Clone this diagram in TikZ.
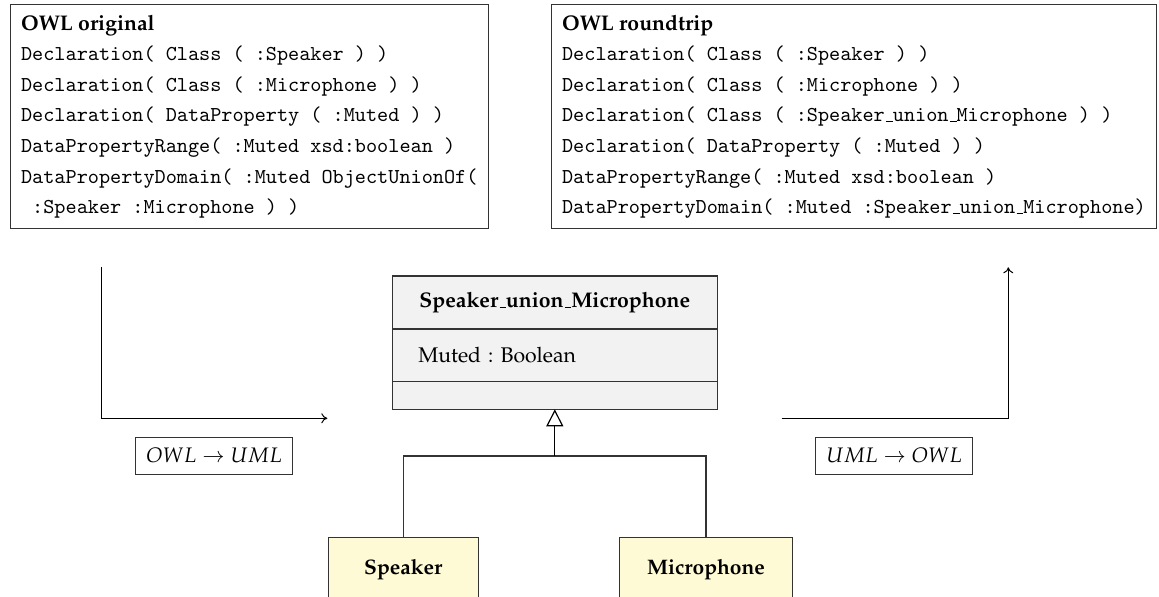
\documentclass[tikz,border=0pt]{standalone}
\usepackage{fix-cm}
\usepackage[OT1]{fontenc}
\usepackage{mathpazo}
\renewcommand{\ttdefault}{cmtt}
\usetikzlibrary{arrows.meta,calc}
\definecolor{clsfill}{HTML}{F2F2F2}
\definecolor{subfill}{HTML}{FFFAD6}
\definecolor{edgegray}{HTML}{333333}
\begin{document}
\frenchspacing
\begin{tikzpicture}[x=0.5pt,y=-0.5pt,
  codebox/.style={draw=edgegray, line width=0.6pt, anchor=north west, align=left,
    inner xsep=5.5pt, inner ysep=0pt, minimum height=112pt,
    font=\fontsize{10.6}{15.3}\selectfont\ttfamily},
  clspart/.style={draw=edgegray, line width=0.6pt, fill=clsfill, outer sep=0pt,
    minimum width=162.5pt, inner sep=0pt, font=\fontsize{10.6}{13}\selectfont},
  subcls/.style={draw=edgegray, line width=0.6pt, fill=subfill, outer sep=0pt,
    minimum height=32pt, inner sep=0pt, font=\fontsize{10.5}{13}\selectfont\bfseries},
  flow/.style={line width=0.5pt, -{To[length=3pt,width=5pt]}},
  inherit/.style={line width=0.6pt, draw=edgegray},
  trans/.style={draw=edgegray, line width=0.5pt, inner xsep=5.5pt, minimum height=18.3pt,
    font=\fontsize{10.5}{13}\selectfont}
]
\useasboundingbox (0,0) rectangle (1159,597);
\clip (0,0) rectangle (1159,597);

% OWL original
\node[codebox] (orig) at (9.5,4) {%
{\rmfamily\bfseries\fontsize{10.6}{15.3}\selectfont OWL original}\\
Declaration( Class ( :Speaker ) )\\
Declaration( Class ( :Microphone ) )\\
Declaration( DataProperty ( :Muted ) )\\
DataPropertyRange( :Muted xsd:boolean )\\
DataPropertyDomain( :Muted ObjectUnionOf(\\
\ :Speaker :Microphone ) )};

% OWL roundtrip
\node[codebox] (round) at (550.5,4) {%
{\rmfamily\bfseries\fontsize{10.6}{15.3}\selectfont OWL roundtrip}\\
Declaration( Class ( :Speaker ) )\\
Declaration( Class ( :Microphone ) )\\
Declaration( Class ( :Speaker\_union\_Microphone ) )\\
Declaration( DataProperty ( :Muted ) )\\
DataPropertyRange( :Muted xsd:boolean )\\
DataPropertyDomain( :Muted :Speaker\_union\_Microphone)};

% UML class
\node[clspart, anchor=north, minimum height=26.5pt, font=\fontsize{10.6}{13}\selectfont\bfseries]
  (clsname) at (554.8,276) {Speaker\_union\_Microphone};
\node[clspart, anchor=north, minimum height=26.35pt, text width=136.5pt, inner xsep=13pt, align=left]
  (clsattr) at (clsname.south) {Muted : Boolean};
\node[clspart, anchor=north, minimum height=13.8pt] (clsops) at (clsattr.south) {};

% subclasses
\node[subcls, anchor=north, minimum width=75pt] (spk) at (403.3,537.3) {Speaker};
\node[subcls, anchor=north, minimum width=86.7pt] (mic) at (706,537.3) {Microphone};

\coordinate (jn) at (554.8,456);
\draw[inherit] (spk.north) |- (jn);
\draw[inherit] (mic.north) |- (jn);
\draw[inherit, draw=black, -{Triangle[open,length=8.5pt,width=8.5pt]}] (jn) -- (clsops.south);

% transformation arrows
\coordinate (l1) at (101,267.3);
\coordinate (l2) at (101,418.3);
\coordinate (l3) at (327.3,418.3);
\draw[flow] (l1) -- (l2) -- (l3);
\coordinate (r1) at (781.7,418.3);
\coordinate (r2) at (1008.3,418.3);
\coordinate (r3) at (1008.3,267.3);
\draw[flow] (r1) -- (r2) -- (r3);

\node[trans] (o2u) at (214.2,455.7) {$OWL \rightarrow UML$};
\node[trans] (u2o) at (894.2,455.7) {$UML \rightarrow OWL$};
\end{tikzpicture}
\end{document}
